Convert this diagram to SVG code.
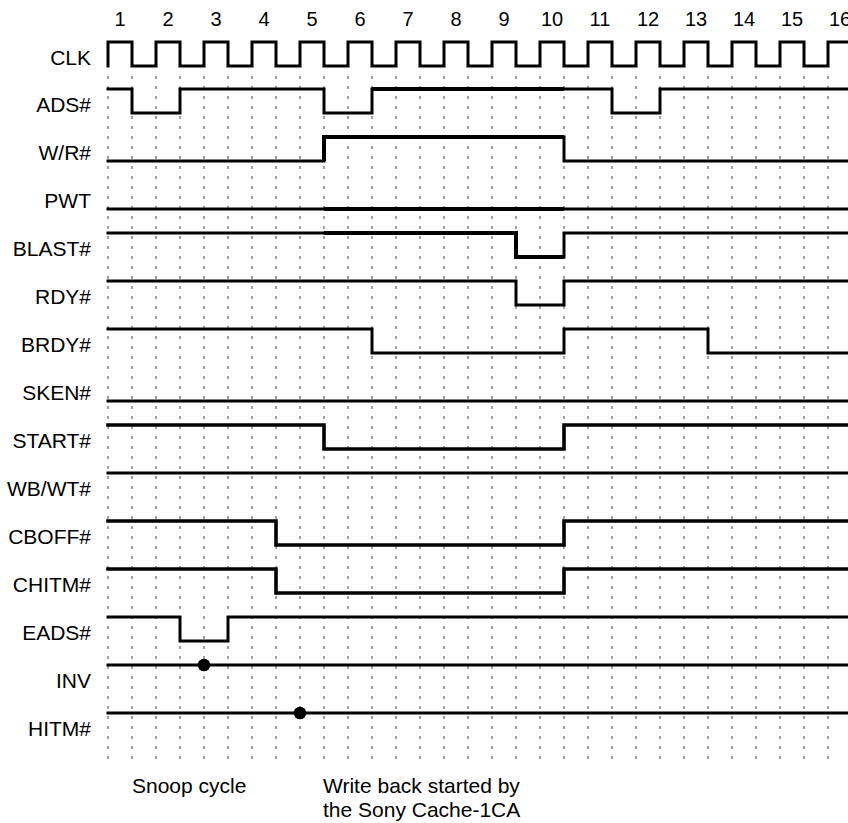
<svg xmlns="http://www.w3.org/2000/svg" width="848" height="823" viewBox="0 0 848 823">
<style>
text{font-family:"Liberation Sans",Arial,sans-serif;fill:#000}
.num{font-size:20px;text-anchor:middle}
.lbl{font-size:21px;text-anchor:end}
.note{font-size:21px}
.grid line{stroke:#444;stroke-width:1;stroke-dasharray:3 7}
.w{fill:none;stroke:#000;stroke-width:3;stroke-linejoin:miter;stroke-linecap:square}
.t{fill:none;stroke:#000;stroke-width:4;stroke-linejoin:miter;stroke-linecap:butt}
.b{stroke-width:3.6}
</style>
<rect width="848" height="823" fill="#fff"/>
<g id="grid" class="grid">
<line x1="108" y1="76" x2="108" y2="763"/><line x1="132" y1="76" x2="132" y2="763"/><line x1="156" y1="76" x2="156" y2="763"/><line x1="180" y1="76" x2="180" y2="763"/><line x1="204" y1="76" x2="204" y2="763"/><line x1="228" y1="76" x2="228" y2="763"/><line x1="252" y1="76" x2="252" y2="763"/><line x1="276" y1="76" x2="276" y2="763"/><line x1="300" y1="76" x2="300" y2="763"/><line x1="324" y1="76" x2="324" y2="763"/><line x1="348" y1="76" x2="348" y2="763"/><line x1="372" y1="76" x2="372" y2="763"/><line x1="396" y1="76" x2="396" y2="763"/><line x1="420" y1="76" x2="420" y2="763"/><line x1="444" y1="76" x2="444" y2="763"/><line x1="468" y1="76" x2="468" y2="763"/><line x1="492" y1="76" x2="492" y2="763"/><line x1="516" y1="76" x2="516" y2="763"/><line x1="540" y1="76" x2="540" y2="763"/><line x1="564" y1="76" x2="564" y2="763"/><line x1="588" y1="76" x2="588" y2="763"/><line x1="612" y1="76" x2="612" y2="763"/><line x1="636" y1="76" x2="636" y2="763"/><line x1="660" y1="76" x2="660" y2="763"/><line x1="684" y1="76" x2="684" y2="763"/><line x1="708" y1="76" x2="708" y2="763"/><line x1="732" y1="76" x2="732" y2="763"/><line x1="756" y1="76" x2="756" y2="763"/><line x1="780" y1="76" x2="780" y2="763"/><line x1="804" y1="76" x2="804" y2="763"/><line x1="828" y1="76" x2="828" y2="763"/>
</g>
<g id="cycle-numbers">
<text class="num" x="120" y="26">1</text><text class="num" x="168" y="26">2</text><text class="num" x="216" y="26">3</text><text class="num" x="264" y="26">4</text><text class="num" x="312" y="26">5</text><text class="num" x="360" y="26">6</text><text class="num" x="408" y="26">7</text><text class="num" x="456" y="26">8</text><text class="num" x="504" y="26">9</text><text class="num" x="552" y="26">10</text><text class="num" x="600" y="26">11</text><text class="num" x="648" y="26">12</text><text class="num" x="696" y="26">13</text><text class="num" x="744" y="26">14</text><text class="num" x="792" y="26">15</text><text class="num" x="840" y="26">16</text>
</g>
<g id="labels">
<text class="lbl" x="91" y="65">CLK</text>
<text class="lbl" x="91" y="112">ADS#</text>
<text class="lbl" x="91" y="160">W/R#</text>
<text class="lbl" x="91" y="208">PWT</text>
<text class="lbl" x="91" y="256">BLAST#</text>
<text class="lbl" x="91" y="304">RDY#</text>
<text class="lbl" x="91" y="352">BRDY#</text>
<text class="lbl" x="91" y="400">SKEN#</text>
<text class="lbl" x="91" y="448">START#</text>
<text class="lbl" x="91" y="496">WB/WT#</text>
<text class="lbl" x="91" y="544">CBOFF#</text>
<text class="lbl" x="91" y="592">CHITM#</text>
<text class="lbl" x="91" y="640">EADS#</text>
<text class="lbl" x="91" y="688">INV</text>
<text class="lbl" x="91" y="736">HITM#</text>
</g>
<g id="waveforms">
<path id="clk" class="w" d="M108,66 V42 H132 V66 H156 V42 H180 V66 H204 V42 H228 V66 H252 V42 H276 V66 H300 V42 H324 V66 H348 V42 H372 V66 H396 V42 H420 V66 H444 V42 H468 V66 H492 V42 H516 V66 H540 V42 H564 V66 H588 V42 H612 V66 H636 V42 H660 V66 H684 V42 H708 V66 H732 V42 H756 V66 H780 V42 H804 V66 H828 V42 H850"/>
<g id="ads"><path class="w" d="M108,89 H132 V113 H180 V89 H324 V113 H372 V89 H612 V113 H660 V89 H850"/><path class="t" d="M372,89 H564"/></g>
<g id="wr"><path class="w" d="M108,161 H324 V137 H564 V161 H850"/><path class="t" d="M324,161 V137 H564"/></g>
<g id="pwt"><path class="w" d="M108,209 H850"/><path class="t" d="M324,209 H564"/></g>
<g id="blast"><path class="w" d="M108,233 H516 V257 H564 V233 H850"/><path class="t" d="M324,233 H516 V257 H564"/></g>
<path id="rdy" class="w" d="M108,281 H516 V305 H564 V281 H850"/>
<path id="brdy" class="w" d="M108,329 H372 V353 H564 V329 H708 V353 H850"/>
<path id="sken" class="w" d="M108,401 H850"/>
<path id="start" class="w b" d="M108,425 H324 V449 H564 V425 H850"/>
<path id="wbwt" class="w" d="M108,473 H850"/>
<path id="cboff" class="w b" d="M108,521 H276 V545 H564 V521 H850"/>
<path id="chitm" class="w b" d="M108,569 H276 V593 H564 V569 H850"/>
<path id="eads" class="w" d="M108,617 H180 V641 H228 V617 H850"/>
<g id="inv"><path class="w" d="M108,665 H850"/><circle cx="204" cy="665" r="6.3"/></g>
<g id="hitm"><path class="w" d="M108,713 H850"/><circle cx="300" cy="713" r="6.3"/></g>
</g>
<g id="notes">
<text class="note" x="132" y="793">Snoop cycle</text>
<text class="note" x="323" y="793">Write back started by</text>
<text class="note" x="323" y="817">the Sony Cache-1CA</text>
</g>
</svg>
